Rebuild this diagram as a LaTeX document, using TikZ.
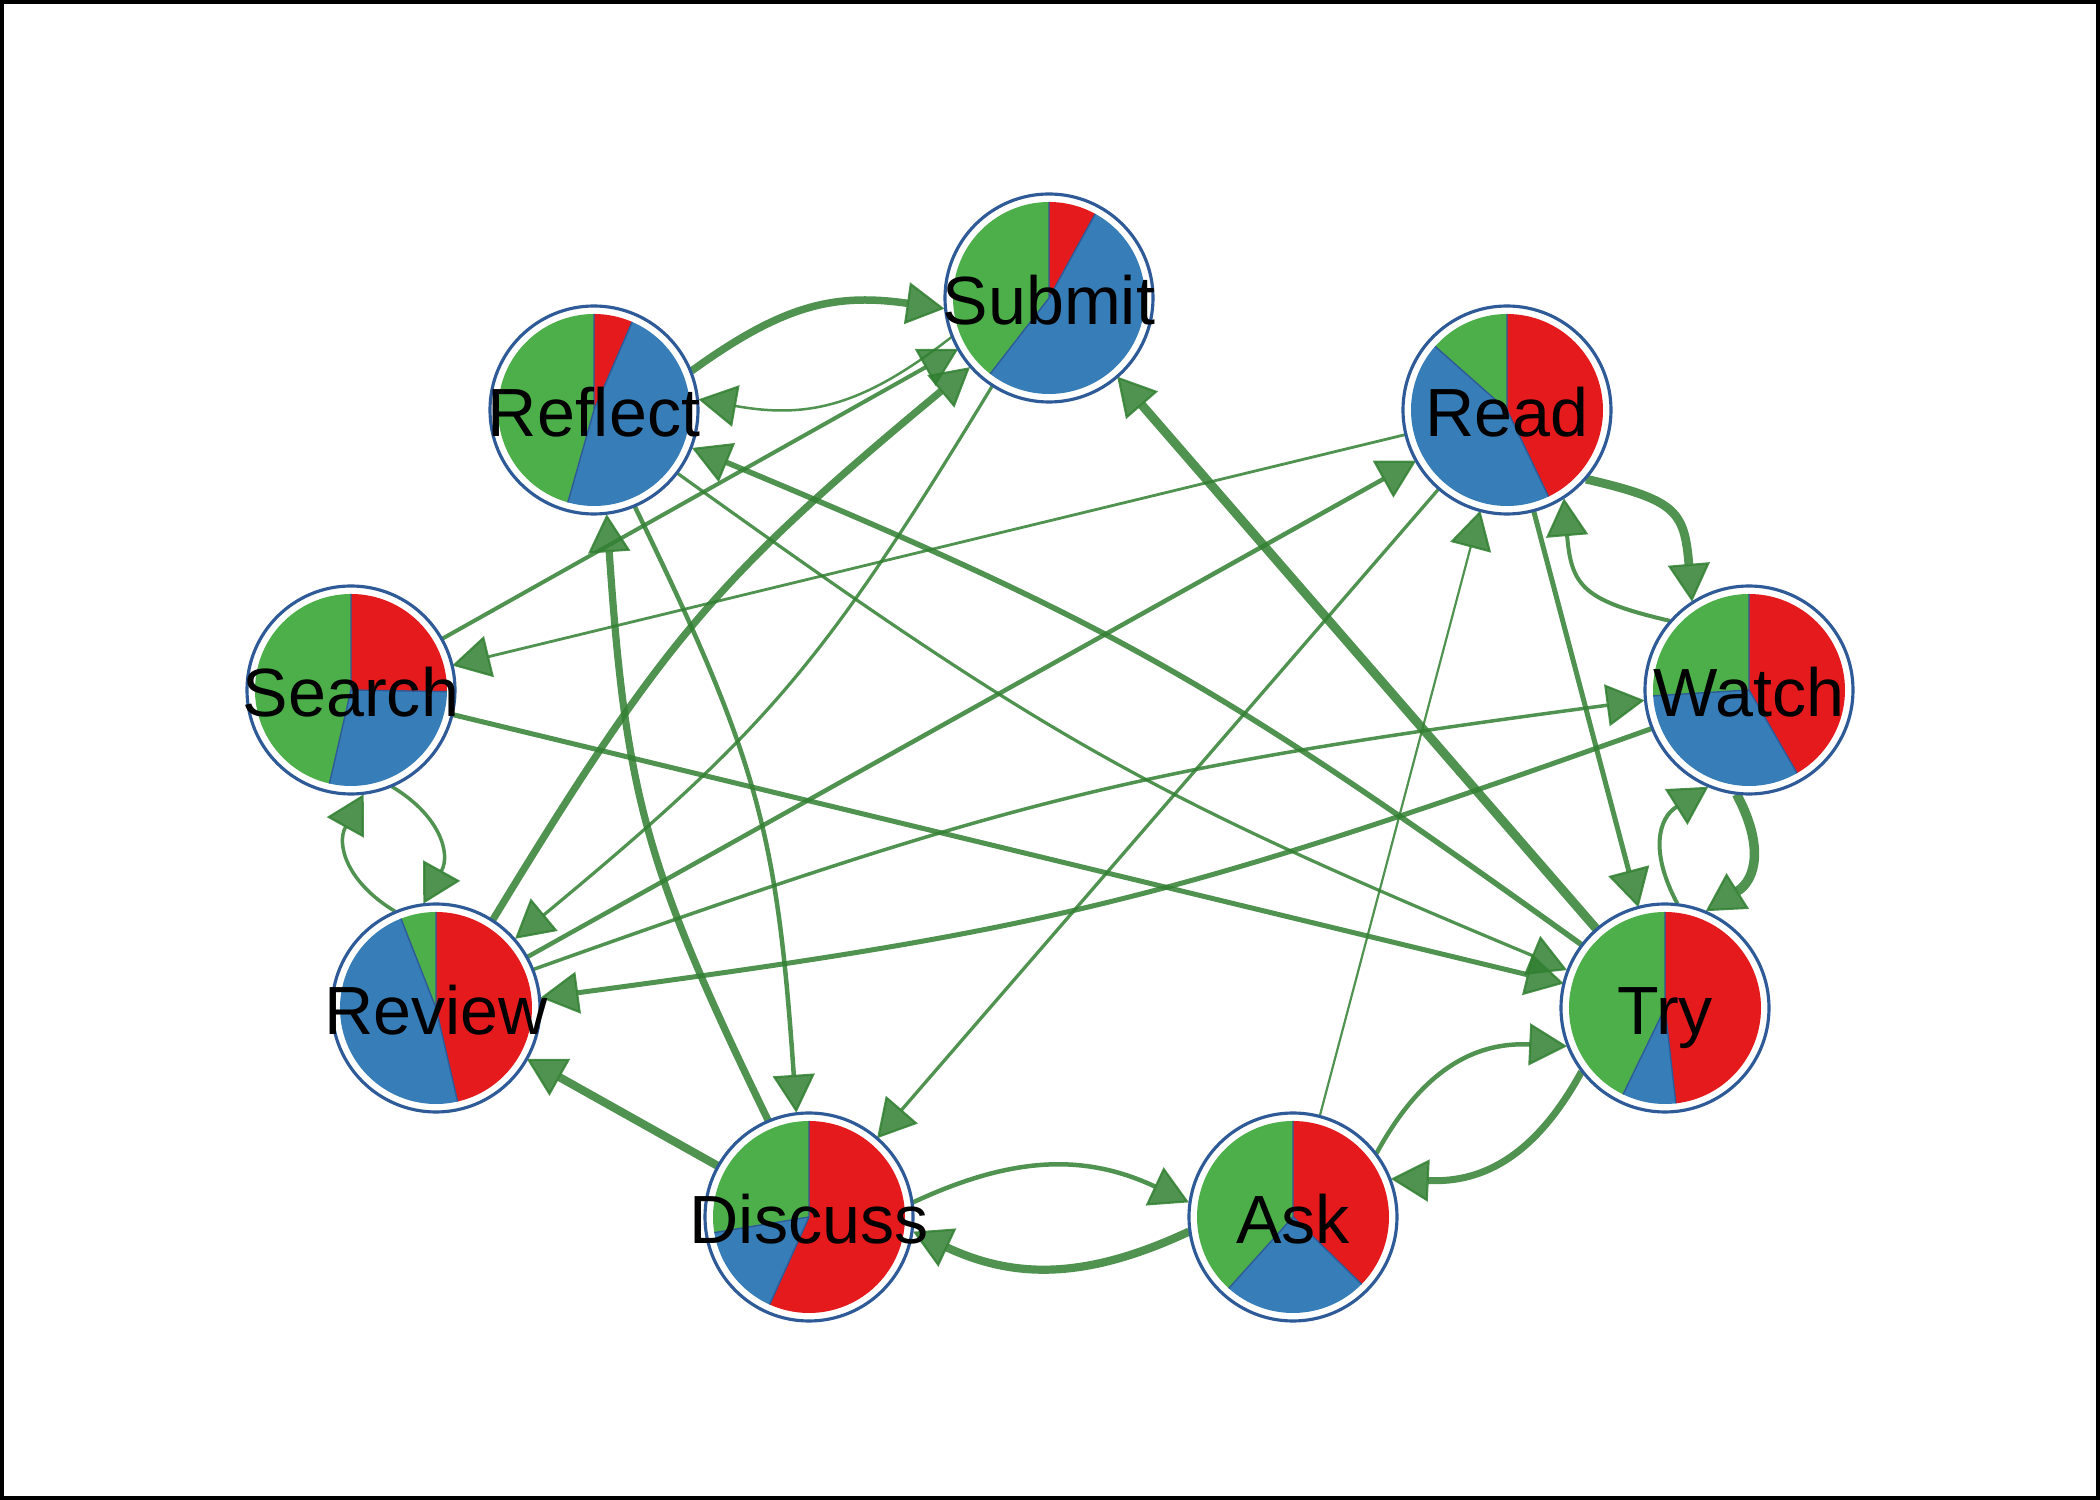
\documentclass[tikz,border=0pt]{standalone}
\usepackage{fontspec}
\setmainfont{Liberation Sans}
\usetikzlibrary{arrows.meta,calc}
\definecolor{cred}{HTML}{E41A1C}
\definecolor{cblue}{HTML}{377EB8}
\definecolor{cgreen}{HTML}{4DAF4A}
\definecolor{nodeblue}{RGB}{46,90,152}
\definecolor{edgegreen}{RGB}{50,128,50}
\pgfdeclarelayer{bglayer}
\pgfdeclarelayer{edgelayer}
\pgfsetlayers{bglayer,edgelayer,main}
\newcommand{\pieslices}[2]{%
  \begin{scope}[shift={(path picture bounding box.center)}]
    \fill[cred] (0,0) -- (90:0.96) arc[start angle=90, end angle={90-#1}, radius=0.96] -- cycle;
    \fill[cblue] (0,0) -- ({90-#1}:0.96) arc[start angle={90-#1}, end angle={90-#2}, radius=0.96] -- cycle;
    \fill[cgreen] (0,0) -- ({90-#2}:0.96) arc[start angle={90-#2}, end angle=-270, radius=0.96] -- cycle;
    \draw[nodeblue, line width=0.4pt] (0,0) -- (90:0.96) (0,0) -- ({90-#1}:0.96) (0,0) -- ({90-#2}:0.96);
  \end{scope}}
% curved connectors between node borders: #1 options, #2 from, #3 to, #4 bend options
\newcommand{\leftedge}[4]{%
  \draw[edge,#1] ($(#2)!1.05cm!8:(#3)$) to[#4] ($(#3)!1.05cm!-8:(#2)$);}
\newcommand{\rightedge}[4]{%
  \draw[edge,#1] ($(#2)!1.05cm!-8:(#3)$) to[#4] ($(#3)!1.05cm!8:(#2)$);}
\tikzset{
  vert/.style={circle, draw=nodeblue, line width=0.9pt, fill=white, minimum size=2.08cm, inner sep=0pt, outer sep=0pt},
  lbl/.style={font=\fontsize{19.4}{23}\selectfont, text height=13.9pt, text depth=0pt, inner sep=0pt, text=black},
  edge/.style={draw=edgegreen, opacity=0.85, -{Triangle[length=0.38cm, width=0.42cm, line width=0.6pt]}},
}
\begin{document}
\begin{tikzpicture}
\useasboundingbox (0,0) rectangle (21,15);
\begin{pgfonlayer}{bglayer}
\fill[white] (0,0) rectangle (21,15);
\end{pgfonlayer}
\draw[black, line width=0.04cm] (0.02,0.02) rectangle (20.98,14.98);

\node[vert, path picture={\pieslices{28.8}{217.8}}] (submit) at (10.49,12.02) {};
\node[vert, path picture={\pieslices{23.4}{195.8}}] (reflect) at (5.94,10.90) {};
\node[vert, path picture={\pieslices{154.4}{311.5}}] (read) at (15.07,10.90) {};
\node[vert, path picture={\pieslices{91}{193}}] (search) at (3.51,8.10) {};
\node[vert, path picture={\pieslices{150}{266.5}}] (watch) at (17.49,8.10) {};
\node[vert, path picture={\pieslices{167}{338.6}}] (review) at (4.36,4.92) {};
\node[vert, path picture={\pieslices{173.5}{205.9}}] (try) at (16.65,4.92) {};
\node[vert, path picture={\pieslices{204.2}{260.6}}] (discuss) at (8.09,2.83) {};
\node[vert, path picture={\pieslices{134.4}{222}}] (ask) at (12.93,2.83) {};

\node[lbl] (tsubmit) at ([yshift=-0.02cm]submit) {Submit};
\node[lbl] (treflect) at ([yshift=-0.02cm]reflect) {Reflect};
\node[lbl] (tread) at ([yshift=-0.02cm]read) {Read};
\node[lbl] (tsearch) at ([yshift=-0.02cm]search) {Search};
\node[lbl] (twatch) at ([yshift=-0.02cm]watch) {Watch};
\node[lbl] (treview) at ([yshift=-0.02cm]review) {Review};
\node[lbl] (ttry) at ([yshift=-0.02cm]try) {Try};
\node[lbl] (tdiscuss) at ([yshift=-0.02cm]discuss) {Discuss};
\node[lbl] (task) at ([yshift=-0.02cm]ask) {Ask};

\begin{pgfonlayer}{edgelayer}
% curved pairs (bending to the left of travel)
\leftedge{line width=0.075cm}{reflect}{submit}{bend left=22, looseness=1.1}
\leftedge{line width=0.025cm}{submit}{reflect}{bend left=24, looseness=1.1}
\leftedge{line width=0.072cm}{review}{submit}{bend left=9.5, looseness=1.15}
\leftedge{line width=0.032cm}{submit}{review}{bend left=9.5, looseness=1.15}
\leftedge{line width=0.072cm}{discuss}{reflect}{bend left=11, looseness=1.15}
\leftedge{line width=0.045cm}{reflect}{discuss}{bend left=11, looseness=1.15}
\leftedge{line width=0.035cm}{review}{watch}{bend left=6, looseness=1.15}
\leftedge{line width=0.05cm}{watch}{review}{bend left=6, looseness=1.15}
\leftedge{line width=0.035cm}{search}{review}{bend left=44, looseness=1.2}
\leftedge{line width=0.035cm}{review}{search}{bend left=44, looseness=1.2}
\leftedge{line width=0.088cm}{read}{watch}{bend left=36, looseness=1.45}
\leftedge{line width=0.04cm}{watch}{read}{bend left=36, looseness=1.4}
\leftedge{line width=0.095cm}{watch}{try}{bend left=43, looseness=1.25}
\leftedge{line width=0.04cm}{try}{watch}{bend left=43, looseness=1.25}
\leftedge{line width=0.045cm}{ask}{try}{bend left=32, looseness=1.1}
\leftedge{line width=0.07cm}{try}{ask}{bend left=32, looseness=1.1}
\leftedge{line width=0.045cm}{discuss}{ask}{bend left=25, looseness=1.05}
\leftedge{line width=0.082cm}{ask}{discuss}{bend left=25, looseness=1.05}
% this pair bends to the right of travel
\rightedge{line width=0.032cm}{reflect}{try}{bend right=6.5, looseness=1.15}
\rightedge{line width=0.055cm}{try}{reflect}{bend right=6.5, looseness=1.15}
% straight
\draw[edge, line width=0.04cm] (search) -- (submit);
\draw[edge, line width=0.028cm] (read) -- (search);
\draw[edge, line width=0.045cm] (review) -- (read);
\draw[edge, line width=0.033cm] (read) -- (discuss);
\draw[edge, line width=0.022cm] (ask) -- (read);
\draw[edge, line width=0.05cm] (read) -- (try);
\draw[edge, line width=0.05cm] (search) -- (try);
\draw[edge, line width=0.09cm] (try) -- (submit);
\draw[edge, line width=0.082cm] (discuss) -- (review);
\end{pgfonlayer}
\end{tikzpicture}
\end{document}
